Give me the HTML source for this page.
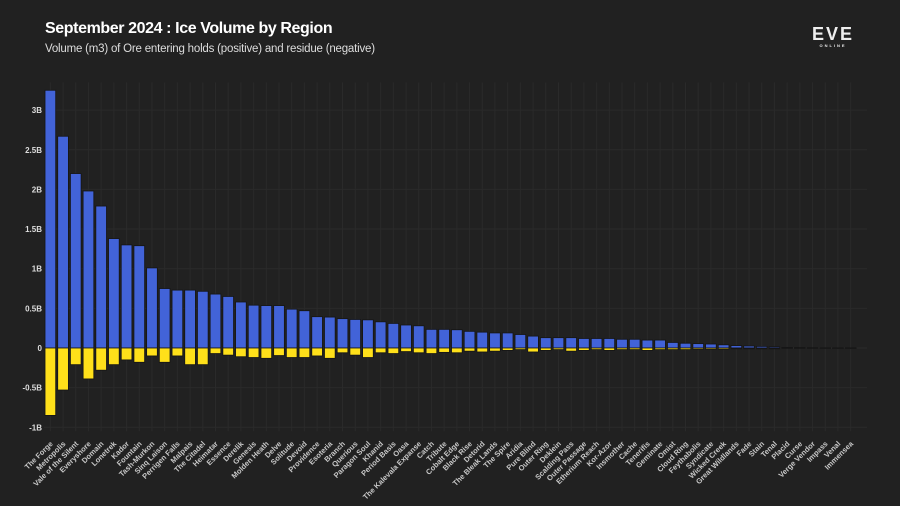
<!DOCTYPE html>
<html><head><meta charset="utf-8"><style>
html,body{margin:0;padding:0;background:#212121;}
body{width:900px;height:506px;overflow:hidden;font-family:"Liberation Sans",sans-serif;position:relative;}
#title{position:absolute;left:45px;top:20px;color:#fff;font-weight:bold;font-size:16px;letter-spacing:-0.4px;}
#subtitle{position:absolute;left:45px;top:43px;color:#ddd;font-size:11.5px;letter-spacing:-0.2px;}
#logo{position:absolute;left:812px;top:24px;color:#eee;font-weight:bold;font-size:18px;letter-spacing:2px;text-align:center;}
#logo small{display:block;font-size:4px;letter-spacing:2px;margin-top:-2px;}
svg{position:absolute;left:0;top:0;}
</style></head><body>
<div id="title">September 2024 : Ice Volume by Region</div>
<div id="subtitle">Volume (m3) of Ore entering holds (positive) and residue (negative)</div>
<div id="logo">EVE<small>ONLINE</small></div>
<svg id="chart" width="900" height="506"></svg>
<script>
const categories=["The Forge","Metropolis","Vale of the Silent","Everyshore","Domain","Lonetrek","Kador","Fountain","Tash-Murkon","Sinq Laison","Perrigen Falls","Malpais","The Citadel","Heimatar","Essence","Derelik","Genesis","Molden Heath","Delve","Solitude","Devoid","Providence","Esoteria","Branch","Querious","Paragon Soul","Khanid","Period Basis","Oasa","The Kalevala Expanse","Catch","Tribute","Cobalt Edge","Black Rise","Detorid","The Bleak Lands","The Spire","Aridia","Pure Blind","Outer Ring","Deklein","Scalding Pass","Outer Passage","Etherium Reach","Kor-Azor","Insmother","Cache","Tenerifis","Geminate","Omist","Cloud Ring","Feythabolis","Syndicate","Wicked Creek","Great Wildlands","Fade","Stain","Tenal","Placid","Curse","Verge Vendor","Impass","Venal","Immensea"];
const positiveVals=[3.25,2.67,2.20,1.98,1.79,1.38,1.30,1.29,1.01,0.75,0.73,0.73,0.715,0.68,0.65,0.58,0.54,0.535,0.535,0.49,0.47,0.395,0.39,0.37,0.36,0.355,0.33,0.31,0.29,0.28,0.235,0.235,0.23,0.21,0.2,0.19,0.19,0.17,0.15,0.13,0.13,0.13,0.12,0.12,0.12,0.11,0.11,0.1,0.1,0.07,0.06,0.055,0.05,0.04,0.03,0.025,0.02,0.015,0.007,0.005,0.003,0.002,0.001,0.001];
const negativeVals=[-0.85,-0.53,-0.21,-0.39,-0.28,-0.21,-0.15,-0.18,-0.10,-0.18,-0.10,-0.21,-0.21,-0.07,-0.09,-0.11,-0.12,-0.13,-0.095,-0.12,-0.12,-0.10,-0.13,-0.06,-0.09,-0.12,-0.06,-0.07,-0.045,-0.06,-0.07,-0.055,-0.06,-0.04,-0.05,-0.04,-0.03,-0.02,-0.05,-0.03,-0.02,-0.04,-0.03,-0.02,-0.03,-0.02,-0.02,-0.03,-0.02,-0.02,-0.02,-0.015,-0.015,-0.015,-0.01,-0.01,-0.01,-0.01,-0.003,-0.002,-0.001,-0.001,-0.001,-0.001];
const yTicks=[-1,-0.5,0,0.5,1,1.5,2,2.5,3];
const yTickLabels=["-1B","-0.5B","0","0.5B","1B","1.5B","2B","2.5B","3B"];

const svg=document.getElementById('chart');
const NS='http://www.w3.org/2000/svg';
const x0=44, x1=857, yZero=348, pxPerB=79.3;
const pitch=(x1-x0)/categories.length;
const xC=i=>x0+pitch*(i+0.5);
const y=v=>yZero-v*pxPerB;
function mk(tag,attrs){const e=document.createElementNS(NS,tag);for(const k in attrs)e.setAttribute(k,attrs[k]);svg.appendChild(e);return e;}
categories.forEach((c,i)=>{const l=mk('line',{x1:xC(i),x2:xC(i),y1:y(3.35),y2:y(-1.05),stroke:'#2a2a2a','stroke-width':1});

});
yTicks.forEach((t,i)=>{const l=mk('line',{x1:x0,x2:x1+10,y1:y(t),y2:y(t),stroke:'#2a2a2a','stroke-width':1});


const tx=mk('text',{x:x0-2,y:y(t)+3,'text-anchor':'end',fill:'#ddd','font-size':'8','font-weight':'bold','font-family':'Liberation Sans, sans-serif'});
tx.textContent=yTickLabels[i];

});
const bw=pitch*0.84;
categories.forEach((c,i)=>{
 const p=positiveVals[i], n=negativeVals[i];
 const b=mk('rect',{x:xC(i)-bw/2,y:y(p),width:bw,height:Math.max(0.3,y(0)-y(p)),fill:'#4263d8',stroke:'#151515','stroke-width':0.8});
 
 
 const r=mk('rect',{x:xC(i)-bw/2,y:y(0),width:bw,height:Math.max(0.3,y(n)-y(0)),fill:'#ffe01a',stroke:'#151515','stroke-width':0.8});
 
 
 const tx=mk('text',{x:0,y:0,'text-anchor':'end',fill:'#c8c8c8','font-size':'7.5','font-weight':'bold','font-family':'Liberation Sans, sans-serif',transform:`translate(${xC(i)+3},${y(-1.05)+13}) rotate(-45)`});
 tx.textContent=c;
 
 
});
</script>
</body></html>
